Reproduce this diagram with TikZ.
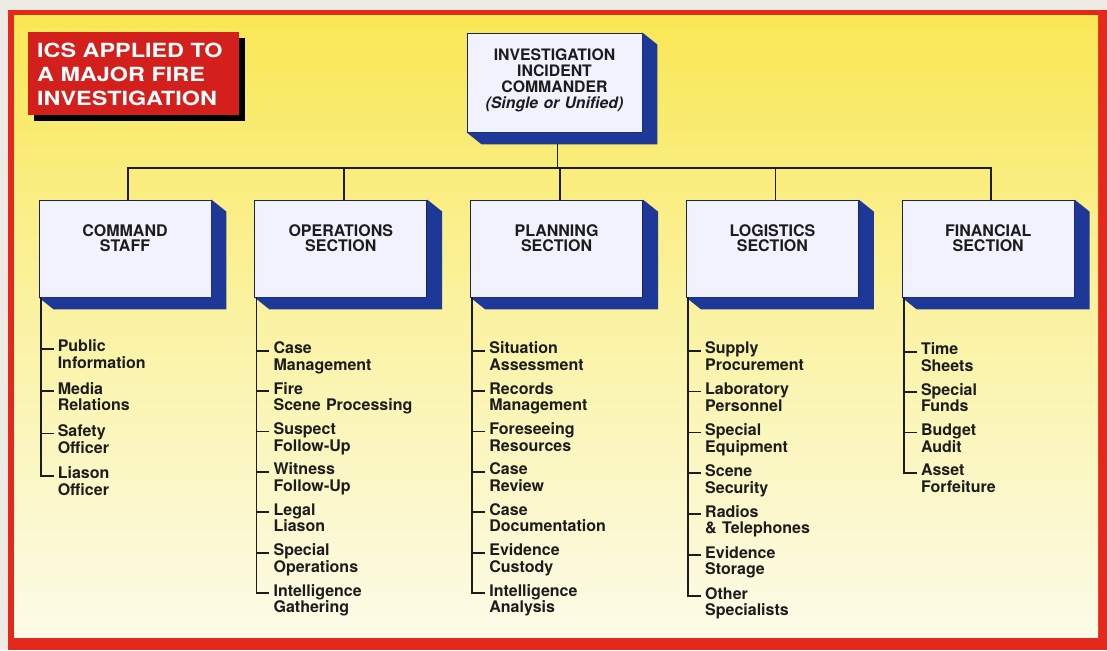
\documentclass[tikz,border=0pt]{standalone}
\usepackage{fontspec}
\setmainfont{TeX Gyre Heros}
\newfontfamily\flagfont{TeX Gyre Heros}[FakeStretch=1.2]
\usepackage{tikz}
\usetikzlibrary{positioning,shadows}

\definecolor{paper}{RGB}{238,235,228}
\definecolor{icsred}{RGB}{228,40,28}
\definecolor{flagred}{RGB}{212,32,28}
\definecolor{icsblue}{RGB}{30,56,152}
\definecolor{navy}{RGB}{24,36,90}
\definecolor{icsyellow}{RGB}{249,231,84}
\definecolor{icsmid}{RGB}{250,243,165}
\definecolor{icscream}{RGB}{252,251,232}
\definecolor{ink}{RGB}{28,28,28}

\tikzstyle{line}=[draw=ink,line width=1.8pt]
\tikzstyle{slab}=[fill=icsblue]
\tikzstyle{flag}=[rectangle,anchor=north west,fill=flagred,text=white,
              general shadow={fill=black,shadow xshift=6pt,shadow yshift=-6pt},
              text width=193pt,align=left,inner xsep=9pt,inner ysep=0pt,
              text height=25pt,text depth=58pt,
              font=\flagfont\bfseries\fontsize{19.5}{24}\selectfont]
\tikzstyle{chief}=[rectangle,draw=navy,line width=0.8pt,fill=white!95!blue,
              text=ink,text width=175pt,align=center,inner sep=0pt,
              text height=27.5pt,text depth=71.5pt,
              font=\bfseries\fontsize{15.8}{16}\selectfont]
\tikzstyle{unit}=[chief,text width=172pt,text height=36.5pt,text depth=60.5pt,
              font=\bfseries\fontsize{16}{15}\selectfont]
\tikzstyle{task}=[text width=150pt,align=left,text=ink,inner xsep=4pt,inner ysep=0pt,
              text height=18pt,text depth=12pt,
              font=\bfseries\fontsize{16}{16.7}\selectfont]

% blue depth under and right of a box
\newcommand\extrude[1]{%
  \fill[slab] (#1.north east) -- ++(15pt,-12pt)
    -- ([shift={(15pt,-12pt)}]#1.south east)
    -- ([shift={(15pt,-12pt)}]#1.south west)
    -- (#1.south west) -- (#1.south east) -- cycle;}

\begin{document}
\begin{tikzpicture}[x=1pt,y=-1pt,node distance=10pt and 0pt]
  \useasboundingbox (0,0) rectangle (1107,650);

  % page, red frame and yellow panel
  \fill[paper] (0,0) rectangle (1107,650);
  \fill[icsred] (8,10) rectangle (1107,650);
  \shade[top color=icsyellow,bottom color=icscream,middle color=icsmid]
    (14,16) rectangle (1098,637);

  \node[flag] (title) at (28,32) {ICS APPLIED TO\\A MAJOR FIRE\\INVESTIGATION};

  % commander and sections
  \node[chief] (ic) at (554.5,82.5)
    {INVESTIGATION\\INCIDENT\\COMMANDER\\{\itshape(Single or Unified)}};
  \node[unit] (cs) at (125,248.5) {COMMAND\\STAFF};
  \node[unit] (ops) [right=43pt of cs] {OPERATIONS\\SECTION};
  \node[unit] (ps) [right=43pt of ops] {PLANNING\\SECTION};
  \node[unit] (ls) [right=43pt of ps] {LOGISTICS\\SECTION};
  \node[unit] (fs) [right=43pt of ls] {FINANCIAL\\SECTION};

  \extrude{ic}
  \extrude{cs}
  \extrude{ops}
  \extrude{ps}
  \extrude{ls}
  \extrude{fs}

  % command staff
  \node[task] (c1) [below right=36pt and 15pt of cs.south west] {Public\\Information};
  \node[task] (c2) [below right=12pt and 0pt of c1.south west] {Media\\Relations};
  \node[task] (c3) [below right=12pt and 0pt of c2.south west] {Safety\\Officer};
  \node[task] (c4) [below right=12pt and 0pt of c3.south west] {Liason\\Officer};

  % operations
  \node[task] (o1) [below right=38pt and 15pt of ops.south west] {Case\\Management};
  \node[task] (o2) [below right=of o1.south west] {Fire\\Scene Processing};
  \node[task] (o3) [below right=of o2.south west] {Suspect\\Follow-Up};
  \node[task] (o4) [below right=of o3.south west] {Witness\\Follow-Up};
  \node[task] (o5) [below right=of o4.south west] {Legal\\Liason};
  \node[task] (o6) [below right=of o5.south west] {Special\\Operations};
  \node[task] (o7) [below right=of o6.south west] {Intelligence\\Gathering};

  % planning
  \node[task] (p1) [below right=38pt and 15pt of ps.south west] {Situation\\Assessment};
  \node[task] (p2) [below right=of p1.south west] {Records\\Management};
  \node[task] (p3) [below right=of p2.south west] {Foreseeing\\Resources};
  \node[task] (p4) [below right=of p3.south west] {Case\\Review};
  \node[task] (p5) [below right=of p4.south west] {Case\\Documentation};
  \node[task] (p6) [below right=of p5.south west] {Evidence\\Custody};
  \node[task] (p7) [below right=of p6.south west] {Intelligence\\Analysis};

  % logistics
  \node[task] (l1) [below right=38pt and 15pt of ls.south west] {Supply\\Procurement};
  \node[task] (l2) [below right=10.5pt and 0pt of l1.south west] {Laboratory\\Personnel};
  \node[task] (l3) [below right=10.5pt and 0pt of l2.south west] {Special\\Equipment};
  \node[task] (l4) [below right=10.5pt and 0pt of l3.south west] {Scene\\Security};
  \node[task] (l5) [below right=10.5pt and 0pt of l4.south west] {Radios\\\& Telephones};
  \node[task] (l6) [below right=10.5pt and 0pt of l5.south west] {Evidence\\Storage};
  \node[task] (l7) [below right=10.5pt and 0pt of l6.south west] {Other\\Specialists};

  % financial
  \node[task] (f1) [below right=39pt and 15pt of fs.south west] {Time\\Sheets};
  \node[task] (f2) [below right=of f1.south west] {Special\\Funds};
  \node[task] (f3) [below right=of f2.south west] {Budget\\Audit};
  \node[task] (f4) [below right=of f3.south west] {Asset\\Forfeiture};

  % chain of command
  \coordinate (bus) at (0,168);
  \coordinate (ic-foot) at ([xshift=3pt,yshift=-12pt]ic.south);
  \foreach \s in {cs,ops,ps,ls,fs}
    \coordinate (\s-top) at ([xshift=3pt]\s.north);
  \draw[line] (cs-top) |- (fs-top |- bus) -- (fs-top);
  \draw[line] (ic-foot) -- (ic-foot |- bus);
  \draw[line] (ops-top) -- (ops-top |- bus);
  \draw[line] (ps-top) -- (ps-top |- bus);
  \draw[line] (ls-top) -- (ls-top |- bus);

  % duty lists
  \foreach \s in {cs,ops,ps,ls,fs}
    \coordinate (\s-t) at ([xshift=2pt]\s.south west);
  \draw[line] (cs-t) |- (c4.west);
  \foreach \n in {1,2,3}
    \draw[line] (cs-t |- c\n.west) -- (c\n.west);
  \draw[line] (ops-t) |- (o7.west);
  \foreach \n in {1,...,6}
    \draw[line] (ops-t |- o\n.west) -- (o\n.west);
  \draw[line] (ps-t) |- (p7.west);
  \foreach \n in {1,...,6}
    \draw[line] (ps-t |- p\n.west) -- (p\n.west);
  \draw[line] (ls-t) |- (l7.west);
  \foreach \n in {1,...,6}
    \draw[line] (ls-t |- l\n.west) -- (l\n.west);
  \draw[line] (fs-t) |- (f4.west);
  \foreach \n in {1,2,3}
    \draw[line] (fs-t |- f\n.west) -- (f\n.west);
\end{tikzpicture}
\end{document}
